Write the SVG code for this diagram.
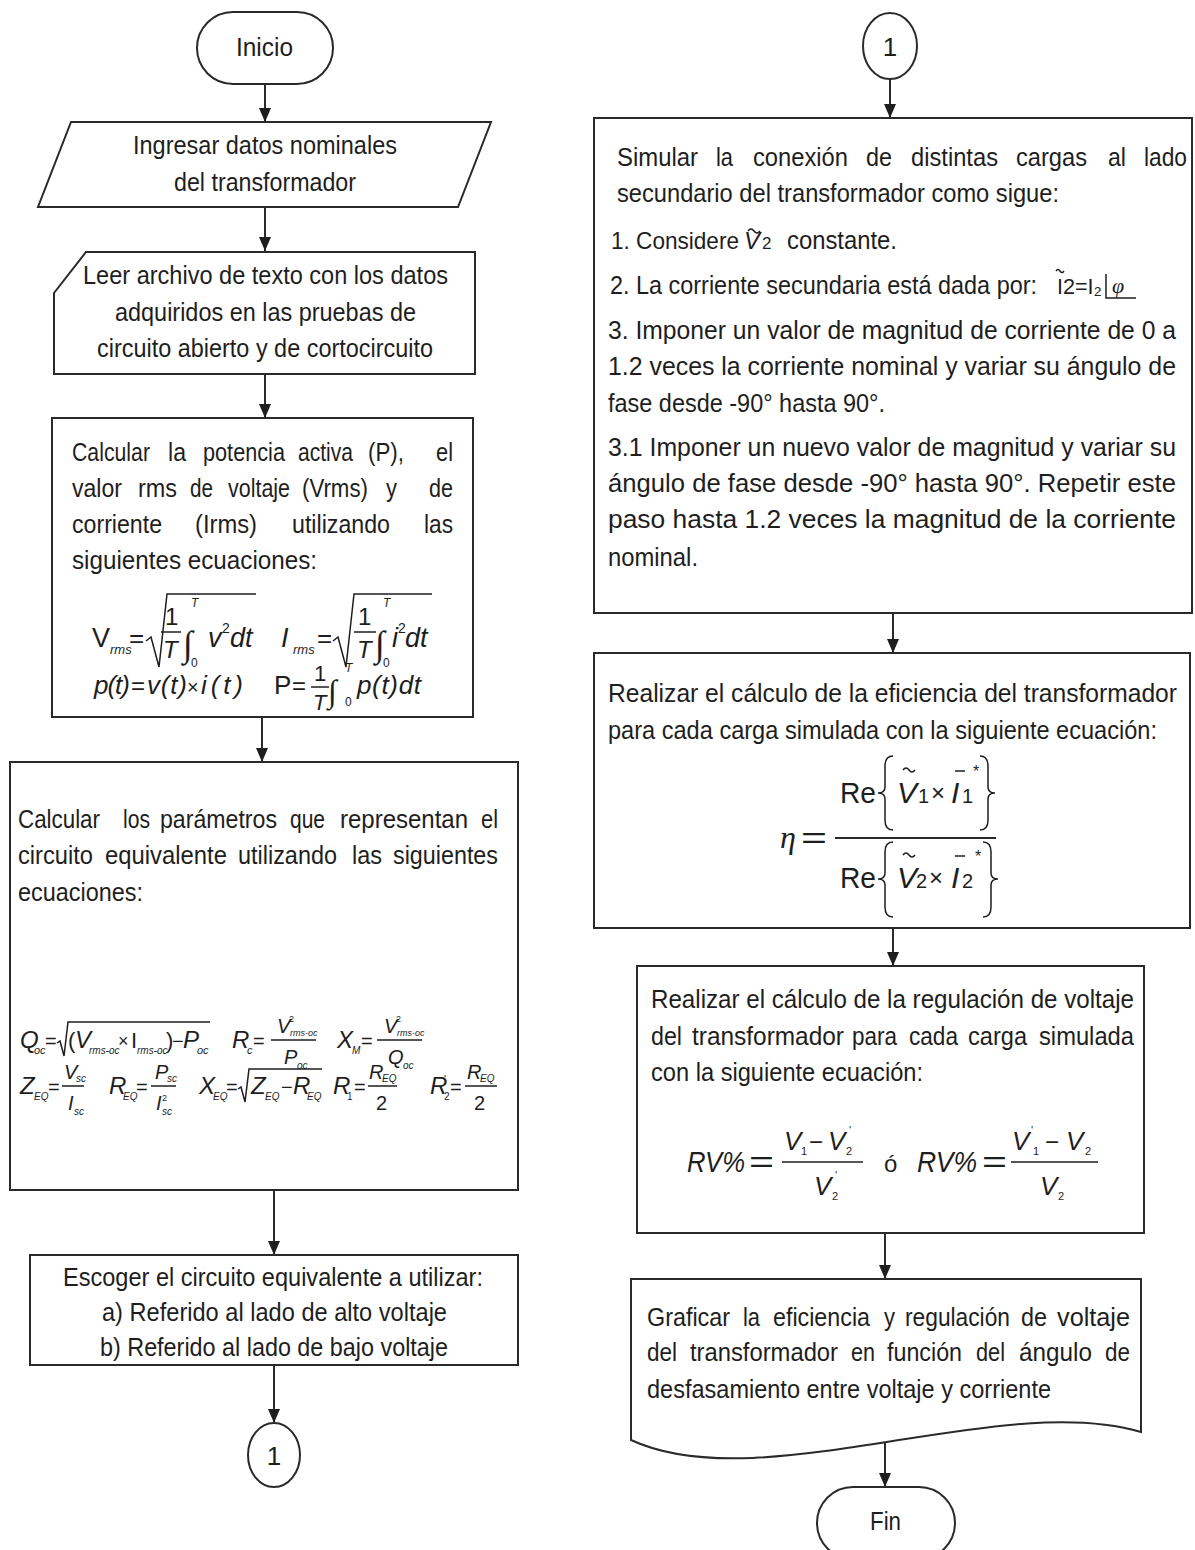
<svg xmlns="http://www.w3.org/2000/svg" width="1195" height="1550" viewBox="0 0 1195 1550">
<style>
.t{font-family:"Liberation Sans Narrow","Liberation Sans",Arial,sans-serif;font-size:26px;fill:#1e1e1e}
.t25{font-size:25px}
.t24{font-size:24px}
.m{font-family:"Liberation Sans",Arial,sans-serif;fill:#1e1e1e}
.mi{font-family:"Liberation Sans",Arial,sans-serif;font-style:italic;fill:#1e1e1e}
.sv{font-family:"Liberation Serif","Times New Roman",serif;font-style:italic;fill:#1e1e1e}
.box{fill:#fff;stroke:#2a2a2a;stroke-width:2}
.ln{fill:none;stroke:#2a2a2a;stroke-width:2}
.thin{fill:none;stroke:#1e1e1e;stroke-width:1.5}
</style>
<defs>
<marker id="ah" viewBox="0 0 14 12" refX="14" refY="6" markerWidth="14" markerHeight="12" markerUnits="userSpaceOnUse" orient="auto">
<path d="M0,0 L14,6 L0,12 z" fill="#1e1e1e"/>
</marker>
</defs>
<rect x="0" y="0" width="1195" height="1550" fill="#fff"/>

<g id="connectors">
<path class="ln" d="M265,84 V122" marker-end="url(#ah)"/>
<path class="ln" d="M265,207 V251" marker-end="url(#ah)"/>
<path class="ln" d="M265,374 V418" marker-end="url(#ah)"/>
<path class="ln" d="M262,717 V762" marker-end="url(#ah)"/>
<path class="ln" d="M274,1190 V1255" marker-end="url(#ah)"/>
<path class="ln" d="M274,1365 V1423" marker-end="url(#ah)"/>
<path class="ln" d="M890,79 V118" marker-end="url(#ah)"/>
<path class="ln" d="M893,613 V653" marker-end="url(#ah)"/>
<path class="ln" d="M893,928 V966" marker-end="url(#ah)"/>
<path class="ln" d="M885,1233 V1279" marker-end="url(#ah)"/>
<path class="ln" d="M885,1440 V1487" marker-end="url(#ah)"/>
</g>

<g id="inicio">
<rect class="box" x="197" y="12" width="136" height="72" rx="36" ry="36"/>
<text class="t" x="236" y="56" textLength="57" lengthAdjust="spacingAndGlyphs">Inicio</text>
</g>

<g id="ingresar">
<polygon class="box" points="71,122 491,122 458,207 38,207"/>
<text class="t" x="133" y="154" textLength="264" lengthAdjust="spacingAndGlyphs">Ingresar datos nominales</text>
<text class="t" x="174" y="191" textLength="182" lengthAdjust="spacingAndGlyphs">del transformador</text>
</g>

<g id="leer">
<polygon class="box" points="86,252 475,252 475,374 54,374 54,293"/>
<text class="t" x="83" y="284" textLength="365" lengthAdjust="spacingAndGlyphs">Leer archivo de texto con los datos</text>
<text class="t" x="115" y="321" textLength="301" lengthAdjust="spacingAndGlyphs">adquiridos en las pruebas de</text>
<text class="t" x="97" y="357" textLength="336" lengthAdjust="spacingAndGlyphs">circuito abierto y de cortocircuito</text>
</g>

<g id="calc-potencia">
<rect class="box" x="52" y="418" width="421" height="299"/>
<text class="t" y="461"><tspan x="72" textLength="78" lengthAdjust="spacingAndGlyphs">Calcular</tspan> <tspan x="168" textLength="18" lengthAdjust="spacingAndGlyphs">la</tspan> <tspan x="203" textLength="82" lengthAdjust="spacingAndGlyphs">potencia</tspan> <tspan x="298" textLength="55" lengthAdjust="spacingAndGlyphs">activa</tspan> <tspan x="368" textLength="36" lengthAdjust="spacingAndGlyphs">(P),</tspan> <tspan x="436" textLength="17" lengthAdjust="spacingAndGlyphs">el</tspan></text>
<text class="t" y="497"><tspan x="72" textLength="50" lengthAdjust="spacingAndGlyphs">valor</tspan> <tspan x="138" textLength="39" lengthAdjust="spacingAndGlyphs">rms</tspan> <tspan x="190" textLength="23" lengthAdjust="spacingAndGlyphs">de</tspan> <tspan x="228" textLength="62" lengthAdjust="spacingAndGlyphs">voltaje</tspan> <tspan x="302" textLength="66" lengthAdjust="spacingAndGlyphs">(Vrms)</tspan> <tspan x="386" textLength="11" lengthAdjust="spacingAndGlyphs">y</tspan> <tspan x="429" textLength="24" lengthAdjust="spacingAndGlyphs">de</tspan></text>
<text class="t" y="533"><tspan x="72" textLength="90" lengthAdjust="spacingAndGlyphs">corriente</tspan> <tspan x="195" textLength="62" lengthAdjust="spacingAndGlyphs">(Irms)</tspan> <tspan x="292" textLength="98" lengthAdjust="spacingAndGlyphs">utilizando</tspan> <tspan x="424" textLength="29" lengthAdjust="spacingAndGlyphs">las</tspan></text>
<text class="t" x="72" y="569" textLength="245" lengthAdjust="spacingAndGlyphs">siguientes ecuaciones:</text>
<!-- Vrms -->
<text class="m" x="92" y="647" font-size="27">V</text>
<text class="mi" x="110" y="654" font-size="13">rms</text>
<text class="m" x="129" y="647" font-size="26">=</text>
<path class="thin" d="M146,641 L151,637 L159,667 L167,594 L256,594"/>
<text class="m" x="165" y="625" font-size="24">1</text>
<line class="thin" x1="161" y1="632" x2="181" y2="632"/>
<text class="mi" x="163" y="658" font-size="24">T</text>
<text class="sv" x="183" y="656" font-size="36">∫</text>
<text class="mi" x="191" y="607" font-size="12">T</text>
<text class="m" x="191" y="667" font-size="12">0</text>
<text class="mi" x="208" y="647" font-size="27">v</text>
<text class="m" x="222" y="633" font-size="14">2</text>
<text class="mi" x="230" y="647" font-size="27">dt</text>
<!-- Irms -->
<text class="mi" x="281" y="647" font-size="27">I</text>
<text class="mi" x="293" y="654" font-size="13">rms</text>
<text class="m" x="317" y="647" font-size="26">=</text>
<path class="thin" d="M333,641 L338,637 L346,667 L354,594 L432,594"/>
<text class="m" x="358" y="625" font-size="24">1</text>
<line class="thin" x1="354" y1="632" x2="376" y2="632"/>
<text class="mi" x="357" y="658" font-size="24">T</text>
<text class="sv" x="375" y="656" font-size="36">∫</text>
<text class="mi" x="383" y="607" font-size="12">T</text>
<text class="m" x="383" y="667" font-size="12">0</text>
<text class="mi" x="392" y="647" font-size="27">i</text>
<text class="m" x="398" y="633" font-size="14">2</text>
<text class="mi" x="405" y="647" font-size="27">dt</text>
<!-- p(t) -->
<text class="mi" x="94" y="694" font-size="26" textLength="36" lengthAdjust="spacing">p(t)</text>
<text class="m" x="131" y="694" font-size="24">=</text>
<text class="mi" x="147" y="694" font-size="26" textLength="40" lengthAdjust="spacing">v(t)</text>
<text class="m" x="187" y="694" font-size="20">×</text>
<text class="mi" x="201" y="694" font-size="26" textLength="42" lengthAdjust="spacing">i(t)</text>
<text class="m" x="274" y="694" font-size="26">P</text>
<text class="m" x="292" y="694" font-size="24">=</text>
<text class="m" x="314" y="681" font-size="22">1</text>
<line class="thin" x1="311" y1="687" x2="329" y2="687"/>
<text class="mi" x="313" y="710" font-size="22">T</text>
<text class="sv" x="328" y="702" font-size="32">∫</text>
<text class="mi" x="345" y="672" font-size="12">T</text>
<text class="m" x="345" y="706" font-size="12">0</text>
<text class="mi" x="357" y="694" font-size="26" textLength="64" lengthAdjust="spacing">p(t)dt</text>
</g>

<g id="calc-parametros">
<rect class="box" x="10" y="762" width="508" height="428"/>
<text class="t" y="828"><tspan x="18" textLength="82" lengthAdjust="spacingAndGlyphs">Calcular</tspan> <tspan x="123" textLength="27" lengthAdjust="spacingAndGlyphs">los</tspan> <tspan x="160" textLength="117" lengthAdjust="spacingAndGlyphs">parámetros</tspan> <tspan x="290" textLength="35" lengthAdjust="spacingAndGlyphs">que</tspan> <tspan x="340" textLength="128" lengthAdjust="spacingAndGlyphs">representan</tspan> <tspan x="481" textLength="17" lengthAdjust="spacingAndGlyphs">el</tspan></text>
<text class="t" y="864"><tspan x="18" textLength="75" lengthAdjust="spacingAndGlyphs">circuito</tspan> <tspan x="105" textLength="122" lengthAdjust="spacingAndGlyphs">equivalente</tspan> <tspan x="238" textLength="99" lengthAdjust="spacingAndGlyphs">utilizando</tspan> <tspan x="352" textLength="30" lengthAdjust="spacingAndGlyphs">las</tspan> <tspan x="393" textLength="105" lengthAdjust="spacingAndGlyphs">siguientes</tspan></text>
<text class="t" x="18" y="901" textLength="125" lengthAdjust="spacingAndGlyphs">ecuaciones:</text>
<!-- row Q -->
<text class="mi" x="20" y="1048" font-size="24">Q</text>
<text class="mi" x="34" y="1054" font-size="11">oc</text>
<text class="m" x="45" y="1048" font-size="20">=</text>
<path class="thin" d="M57,1043 L60,1041 L64,1056 L68,1022 L210,1022"/>
<text class="m" x="68" y="1048" font-size="22">(</text>
<text class="mi" x="75" y="1048" font-size="24">V</text>
<text class="mi" x="89" y="1054" font-size="10">rms-oc</text>
<text class="m" x="118" y="1047" font-size="18">×</text>
<text class="m" x="131" y="1048" font-size="22">I</text>
<text class="mi" x="137" y="1054" font-size="10">rms-oc</text>
<text class="m" x="166" y="1048" font-size="22">)</text>
<text class="m" x="172" y="1048" font-size="20">−</text>
<text class="mi" x="183" y="1048" font-size="24">P</text>
<text class="mi" x="197" y="1054" font-size="11">oc</text>
<text class="mi" x="232" y="1048" font-size="24">R</text>
<text class="mi" x="247" y="1054" font-size="11">c</text>
<text class="m" x="253" y="1048" font-size="20">=</text>
<line class="thin" x1="271" y1="1040" x2="316" y2="1040"/>
<text class="mi" x="277" y="1033" font-size="20">V</text>
<text class="m" x="289" y="1022" font-size="9">2</text>
<text class="mi" x="290" y="1036" font-size="9">rms-oc</text>
<text class="mi" x="284" y="1064" font-size="20">P</text>
<text class="mi" x="297" y="1069" font-size="10">oc</text>
<text class="mi" x="337" y="1048" font-size="24">X</text>
<text class="mi" x="352" y="1054" font-size="10">M</text>
<text class="m" x="361" y="1048" font-size="20">=</text>
<line class="thin" x1="377" y1="1040" x2="422" y2="1040"/>
<text class="mi" x="384" y="1033" font-size="20">V</text>
<text class="m" x="396" y="1022" font-size="9">2</text>
<text class="mi" x="397" y="1036" font-size="9">rms-oc</text>
<text class="mi" x="388" y="1064" font-size="20">Q</text>
<text class="mi" x="403" y="1069" font-size="10">oc</text>
<!-- row Z -->
<text class="mi" x="20" y="1094" font-size="24">Z</text>
<text class="mi" x="34" y="1100" font-size="10">EQ</text>
<text class="m" x="48" y="1094" font-size="20">=</text>
<line class="thin" x1="62" y1="1086" x2="84" y2="1086"/>
<text class="mi" x="64" y="1079" font-size="20">V</text>
<text class="mi" x="76" y="1082" font-size="10">sc</text>
<text class="mi" x="68" y="1110" font-size="20">I</text>
<text class="mi" x="74" y="1115" font-size="10">sc</text>
<text class="mi" x="109" y="1094" font-size="24">R</text>
<text class="mi" x="123" y="1100" font-size="10">EQ</text>
<text class="m" x="136" y="1094" font-size="20">=</text>
<line class="thin" x1="151" y1="1086" x2="176" y2="1086"/>
<text class="mi" x="155" y="1079" font-size="20">P</text>
<text class="mi" x="167" y="1082" font-size="10">sc</text>
<text class="mi" x="156" y="1110" font-size="20">I</text>
<text class="m" x="162" y="1101" font-size="9">2</text>
<text class="mi" x="162" y="1115" font-size="10">sc</text>
<text class="mi" x="199" y="1094" font-size="24">X</text>
<text class="mi" x="213" y="1100" font-size="10">EQ</text>
<text class="m" x="226" y="1094" font-size="20">=</text>
<path class="thin" d="M238,1089 L241,1087 L245,1102 L249,1069 L322,1069"/>
<text class="mi" x="251" y="1094" font-size="24">Z</text>
<text class="mi" x="265" y="1100" font-size="10">EQ</text>
<text class="m" x="281" y="1094" font-size="20">−</text>
<text class="mi" x="293" y="1094" font-size="24">R</text>
<text class="mi" x="307" y="1100" font-size="10">EQ</text>
<text class="mi" x="333" y="1094" font-size="24">R</text>
<text class="m" x="347" y="1100" font-size="10">1</text>
<text class="m" x="354" y="1094" font-size="20">=</text>
<line class="thin" x1="368" y1="1086" x2="397" y2="1086"/>
<text class="mi" x="369" y="1079" font-size="20">R</text>
<text class="mi" x="382" y="1082" font-size="10">EQ</text>
<text class="m" x="376" y="1110" font-size="20">2</text>
<text class="mi" x="430" y="1094" font-size="24">R</text>
<text class="m" x="444" y="1083" font-size="11">'</text>
<text class="m" x="444" y="1100" font-size="10">2</text>
<text class="m" x="450" y="1094" font-size="20">=</text>
<line class="thin" x1="465" y1="1086" x2="497" y2="1086"/>
<text class="mi" x="467" y="1079" font-size="20">R</text>
<text class="mi" x="480" y="1082" font-size="10">EQ</text>
<text class="m" x="474" y="1110" font-size="20">2</text>
</g>

<g id="escoger">
<rect class="box" x="30" y="1255" width="488" height="110"/>
<text class="t" x="63" y="1286" textLength="420" lengthAdjust="spacingAndGlyphs">Escoger el circuito equivalente a utilizar:</text>
<text class="t" x="102" y="1321" textLength="345" lengthAdjust="spacingAndGlyphs">a) Referido al lado de alto voltaje</text>
<text class="t" x="100" y="1356" textLength="348" lengthAdjust="spacingAndGlyphs">b) Referido al lado de bajo voltaje</text>
</g>

<g id="conector-1-a">
<ellipse class="box" cx="274" cy="1455" rx="26" ry="32"/>
<text class="t" x="274" y="1465" text-anchor="middle">1</text>
</g>

<g id="conector-1-b">
<ellipse class="box" cx="890" cy="46" rx="27" ry="33"/>
<text class="t" x="890" y="56" text-anchor="middle">1</text>
</g>

<g id="simular">
<rect class="box" x="594" y="118" width="598" height="495"/>
<text class="t" y="166"><tspan x="617" textLength="81" lengthAdjust="spacingAndGlyphs">Simular</tspan> <tspan x="716" textLength="17" lengthAdjust="spacingAndGlyphs">la</tspan> <tspan x="753" textLength="95" lengthAdjust="spacingAndGlyphs">conexión</tspan> <tspan x="866" textLength="26" lengthAdjust="spacingAndGlyphs">de</tspan> <tspan x="911" textLength="87" lengthAdjust="spacingAndGlyphs">distintas</tspan> <tspan x="1016" textLength="71" lengthAdjust="spacingAndGlyphs">cargas</tspan> <tspan x="1108" textLength="18" lengthAdjust="spacingAndGlyphs">al</tspan> <tspan x="1144" textLength="43" lengthAdjust="spacingAndGlyphs">lado</tspan></text>
<text class="t" x="617" y="202" textLength="442" lengthAdjust="spacingAndGlyphs">secundario del transformador como sigue:</text>
<text class="t t24" x="611" y="249" textLength="128" lengthAdjust="spacingAndGlyphs">1. Considere</text>
<text class="mi" x="744" y="249" font-size="24">V<tspan class="m" font-style="normal" x="762" font-size="17">2</tspan></text>
<path class="thin" d="M748,231 q3,-4 6,0 t6,0"/>
<text class="t" x="787" y="249" textLength="110" lengthAdjust="spacingAndGlyphs">constante.</text>
<text class="t" x="610" y="294" textLength="427" lengthAdjust="spacingAndGlyphs">2. La corriente secundaria está dada por:</text>
<text class="m" x="1057" y="294" font-size="22" textLength="45" lengthAdjust="spacingAndGlyphs">I2=I₂</text>
<path class="thin" d="M1056,271 q2,-3 4,0 t4,0"/>
<path class="thin" d="M1106,274 V298 H1136"/>
<text class="sv" x="1112" y="293" font-size="22">φ</text>
<text class="t t25" x="608" y="339" textLength="568" lengthAdjust="spacingAndGlyphs">3. Imponer un valor de magnitud de corriente de 0 a</text>
<text class="t t25" x="608" y="375" textLength="568" lengthAdjust="spacingAndGlyphs">1.2 veces la corriente nominal y variar su ángulo de</text>
<text class="t" x="608" y="412" textLength="277" lengthAdjust="spacingAndGlyphs">fase desde -90° hasta 90°.</text>
<text class="t t25" x="608" y="456" textLength="568" lengthAdjust="spacingAndGlyphs">3.1 Imponer un nuevo valor de magnitud y variar su</text>
<text class="t t25" x="608" y="492" textLength="568" lengthAdjust="spacingAndGlyphs">ángulo de fase desde -90° hasta 90°. Repetir este</text>
<text class="t t25" x="608" y="528" textLength="568" lengthAdjust="spacingAndGlyphs">paso hasta 1.2 veces la magnitud de la corriente</text>
<text class="t" x="608" y="566" textLength="90" lengthAdjust="spacingAndGlyphs">nominal.</text>
</g>

<g id="eficiencia">
<rect class="box" x="594" y="653" width="596" height="275"/>
<text class="t t25" x="608" y="702" textLength="569" lengthAdjust="spacingAndGlyphs">Realizar el cálculo de la eficiencia del transformador</text>
<text class="t t25" x="608" y="739" textLength="549" lengthAdjust="spacingAndGlyphs">para cada carga simulada con la siguiente ecuación:</text>
<text class="sv" x="780" y="848" font-size="32">η</text>
<text class="m" x="801" y="848" font-size="30" textLength="26" lengthAdjust="spacingAndGlyphs">=</text>
<line class="ln" x1="835" y1="838" x2="996" y2="838"/>
<text class="m" x="840" y="803" font-size="30" textLength="36" lengthAdjust="spacingAndGlyphs">Re</text>
<path class="thin" d="M893,756 Q885,756 885,766 V787 Q885,793 878,793 Q885,793 885,799 V820 Q885,830 893,830"/>
<text class="mi" x="897" y="803" font-size="30">V</text>
<path class="thin" d="M903,770 q3,-4 6,0 t6,0"/>
<text class="m" x="918" y="803" font-size="20">1</text>
<text class="m" x="931" y="801" font-size="24">×</text>
<text class="mi" x="951" y="803" font-size="30">I</text>
<line class="thin" x1="955" y1="771" x2="965" y2="771"/>
<text class="m" x="962" y="803" font-size="20">1</text>
<text class="m" x="973" y="777" font-size="16">*</text>
<path class="thin" d="M980,756 Q988,756 988,766 V787 Q988,793 995,793 Q988,793 988,799 V820 Q988,830 980,830"/>
<text class="m" x="840" y="888" font-size="30" textLength="36" lengthAdjust="spacingAndGlyphs">Re</text>
<path class="thin" d="M893,842 Q885,842 885,852 V873 Q885,879 878,879 Q885,879 885,885 V907 Q885,917 893,917"/>
<text class="mi" x="897" y="888" font-size="30">V</text>
<path class="thin" d="M903,855 q3,-4 6,0 t6,0"/>
<text class="m" x="916" y="888" font-size="20">2</text>
<text class="m" x="929" y="886" font-size="24">×</text>
<text class="mi" x="951" y="888" font-size="30">I</text>
<line class="thin" x1="955" y1="856" x2="965" y2="856"/>
<text class="m" x="962" y="888" font-size="20">2</text>
<text class="m" x="975" y="862" font-size="16">*</text>
<path class="thin" d="M983,842 Q991,842 991,852 V873 Q991,879 998,879 Q991,879 991,885 V907 Q991,917 983,917"/>
</g>

<g id="regulacion">
<rect class="box" x="637" y="966" width="507" height="267"/>
<text class="t" x="651" y="1008" textLength="483" lengthAdjust="spacingAndGlyphs">Realizar el cálculo de la regulación de voltaje</text>
<text class="t" y="1045"><tspan x="651" textLength="31" lengthAdjust="spacingAndGlyphs">del</tspan> <tspan x="692" textLength="152" lengthAdjust="spacingAndGlyphs">transformador</tspan> <tspan x="852" textLength="45" lengthAdjust="spacingAndGlyphs">para</tspan> <tspan x="909" textLength="49" lengthAdjust="spacingAndGlyphs">cada</tspan> <tspan x="968" textLength="59" lengthAdjust="spacingAndGlyphs">carga</tspan> <tspan x="1039" textLength="95" lengthAdjust="spacingAndGlyphs">simulada</tspan></text>
<text class="t" x="651" y="1081" textLength="272" lengthAdjust="spacingAndGlyphs">con la siguiente ecuación:</text>
<text class="mi" x="687" y="1172" font-size="30" textLength="58" lengthAdjust="spacingAndGlyphs">RV%</text>
<text class="m" x="749" y="1172" font-size="30" textLength="25" lengthAdjust="spacingAndGlyphs">=</text>
<line class="thin" x1="782" y1="1162" x2="863" y2="1162"/>
<text class="mi" x="784" y="1150" font-size="26">V</text>
<text class="m" x="801" y="1155" font-size="11">1</text>
<text class="m" x="809" y="1150" font-size="24">−</text>
<text class="mi" x="828" y="1150" font-size="26">V</text>
<text class="m" x="846" y="1155" font-size="11">2</text>
<text class="m" x="849" y="1134" font-size="11">'</text>
<text class="mi" x="814" y="1195" font-size="26">V</text>
<text class="m" x="832" y="1200" font-size="11">2</text>
<text class="m" x="835" y="1179" font-size="11">'</text>
<text class="m" x="884" y="1172" font-size="24">ó</text>
<text class="mi" x="917" y="1172" font-size="30" textLength="60" lengthAdjust="spacingAndGlyphs">RV%</text>
<text class="m" x="982" y="1172" font-size="30" textLength="25" lengthAdjust="spacingAndGlyphs">=</text>
<line class="thin" x1="1011" y1="1162" x2="1098" y2="1162"/>
<text class="mi" x="1012" y="1150" font-size="26">V</text>
<text class="m" x="1031" y="1134" font-size="11">'</text>
<text class="m" x="1033" y="1155" font-size="11">1</text>
<text class="m" x="1045" y="1150" font-size="24">−</text>
<text class="mi" x="1066" y="1150" font-size="26">V</text>
<text class="m" x="1085" y="1155" font-size="11">2</text>
<text class="mi" x="1040" y="1195" font-size="26">V</text>
<text class="m" x="1058" y="1200" font-size="11">2</text>
</g>

<g id="graficar">
<path class="box" d="M631,1279 H1141 V1432 C1000,1390 760,1500 631,1440 Z"/>
<text class="t" y="1326"><tspan x="647" textLength="83" lengthAdjust="spacingAndGlyphs">Graficar</tspan> <tspan x="743" textLength="17" lengthAdjust="spacingAndGlyphs">la</tspan> <tspan x="773" textLength="97" lengthAdjust="spacingAndGlyphs">eficiencia</tspan> <tspan x="884" textLength="11" lengthAdjust="spacingAndGlyphs">y</tspan> <tspan x="905" textLength="105" lengthAdjust="spacingAndGlyphs">regulación</tspan> <tspan x="1021" textLength="26" lengthAdjust="spacingAndGlyphs">de</tspan> <tspan x="1057" textLength="73" lengthAdjust="spacingAndGlyphs">voltaje</tspan></text>
<text class="t" y="1361"><tspan x="647" textLength="30" lengthAdjust="spacingAndGlyphs">del</tspan> <tspan x="690" textLength="148" lengthAdjust="spacingAndGlyphs">transformador</tspan> <tspan x="851" textLength="24" lengthAdjust="spacingAndGlyphs">en</tspan> <tspan x="887" textLength="75" lengthAdjust="spacingAndGlyphs">función</tspan> <tspan x="976" textLength="29" lengthAdjust="spacingAndGlyphs">del</tspan> <tspan x="1019" textLength="73" lengthAdjust="spacingAndGlyphs">ángulo</tspan> <tspan x="1105" textLength="25" lengthAdjust="spacingAndGlyphs">de</tspan></text>
<text class="t" x="647" y="1398" textLength="404" lengthAdjust="spacingAndGlyphs">desfasamiento entre voltaje y corriente</text>
</g>

<g id="fin">
<rect class="box" x="817" y="1487" width="138" height="72" rx="36" ry="36"/>
<text class="t" x="870" y="1530" textLength="31" lengthAdjust="spacingAndGlyphs">Fin</text>
</g>
</svg>
